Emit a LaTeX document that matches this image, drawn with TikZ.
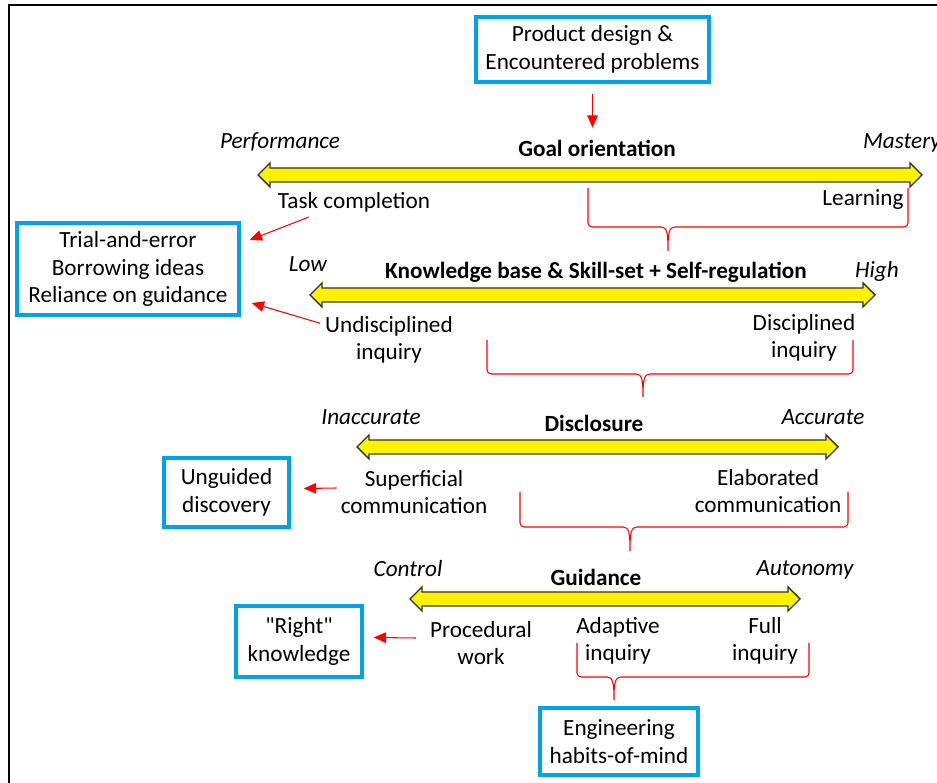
\documentclass[tikz,border=0pt]{standalone}
\usepackage{fontspec}
\setmainfont{Carlito}
\usetikzlibrary{calc,arrows.meta}
\definecolor{boxblue}{RGB}{0,162,232}
\definecolor{barfill}{RGB}{255,242,0}

\tikzset{
	lbl/.style={font=\fontsize{13.2pt}{15.6pt}\selectfont, align=center, inner sep=1pt},
	pole/.style={lbl, font=\fontsize{13.2pt}{15.6pt}\selectfont\itshape},
	axis/.style={lbl, font=\fontsize{13.2pt}{15.6pt}\selectfont\bfseries},
	outcome/.style={lbl, draw=boxblue, line width=2pt},
	redarrow/.style={red, line width=0.6pt, -{Triangle[length=7pt,width=6pt]}},
	cbrace/.style={red, line width=0.6pt, rounded corners=2.3pt},
	ybar/.style={draw=black!80, line width=0.8pt, fill=barfill}
}

\begin{document}
\begin{tikzpicture}[x=0.02cm, y=-0.02cm]
\useasboundingbox (0,0) rectangle (937,783);
\draw[line width=1.2pt] (9,790) -- (9,5) -- (945,5);

% yellow scales
\foreach \xa/\xb/\y in {258/922/175, 310/875/295, 357/838/447, 410/800/599}{
	\draw[ybar] (\xa,\y) -- (\xa+12,\y-12) -- (\xa+12,\y-7) -- (\xb-12,\y-7) -- (\xb-12,\y-12)
		-- (\xb,\y) -- (\xb-12,\y+12) -- (\xb-12,\y+7) -- (\xa+12,\y+7) -- (\xa+12,\y+12) -- cycle;
	}

% red braces
\foreach \xl/\xr/\xm/\yt/\yb/\ytip in {588/908/668/188/227/251, 487/853/643/340/374/397, 520/848/630/492/527/551, 577/809/614/643/677/700}{
	\draw[cbrace] (\xl,\yt) -- (\xl,\yb) -- (\xm-7,\yb);
	\draw[cbrace] (\xr,\yt) -- (\xr,\yb) -- (\xm+7,\yb);
	\draw[red, line width=0.6pt] (\xm-7,\yb) .. controls (\xm-1,\yb) and (\xm,\yb+6) .. (\xm,\ytip)
		.. controls (\xm,\yb+6) and (\xm+1,\yb) .. (\xm+7,\yb);
	}

% outcome boxes
\node[outcome, minimum width=4.66cm, minimum height=1.3cm] (prod) at (592.5,49.5) {Product design \&\\Encountered problems};
\node[outcome, minimum width=4.44cm, minimum height=1.84cm] (trial) at (128,269) {Trial-and-error\\Borrowing ideas\\Reliance on guidance};
\node[outcome, minimum width=2.5cm, minimum height=1.38cm] (unguided) at (226.5,492.5) {Unguided\\discovery};
\node[outcome, minimum width=2.52cm, minimum height=1.42cm] (right) at (299,641.5) {\textquotedbl Right\textquotedbl\\knowledge};
\node[outcome, minimum width=3.16cm, minimum height=1.34cm] (eng) at (619,741.5) {Engineering\\habits-of-mind};

% goal orientation
\node[axis] (goal) at (597,148) {Goal orientation};
\node[pole] (perf) at (280,142) {Performance};
\node[pole, anchor=west] (mast) at (861,143) {Mastery};
\node[lbl] (task) at (354,202) {Task completion};
\node[lbl] (learn) at (863,200) {Learning};

% knowledge base
\node[axis] (kb) at (596,272) {Knowledge base \& Skill-set + Self-regulation};
\node[pole] (low) at (308,264) {Low};
\node[pole] (high) at (877,271) {High};
\node[lbl] (undisc) at (389,340) {Undisciplined\\inquiry};
\node[lbl] (discip) at (804,338) {Disciplined\\inquiry};

% disclosure
\node[axis] (discl) at (594,423) {Disclosure};
\node[pole] (inacc) at (371,417) {Inaccurate};
\node[pole] (acc) at (823,417) {Accurate};
\node[lbl] (superf) at (414,492) {Superficial\\communication};
\node[lbl] (elab) at (768,491) {Elaborated\\communication};

% guidance
\node[axis] (guid) at (596,577) {Guidance};
\node[pole] (ctrl) at (408,569) {Control};
\node[pole] (auto) at (805,570) {Autonomy};
\node[lbl] (proc) at (481,643) {Procedural\\work};
\node[lbl] (adapt) at (618,641) {Adaptive\\inquiry};
\node[lbl] (full) at (765,641) {Full\\inquiry};

% red arrows
\draw[redarrow, shorten <=5.7pt, shorten >=5.7pt] (prod.south) -- (prod.south |- goal.north);
\draw[redarrow] ($(task.south west)+(33,3)$) -- ($(trial.east)+(9,-29)$);
\draw[redarrow] ($(undisc.north west)+(-3,9)$) -- ($(trial.east)+(11,34)$);
\draw[redarrow] ($(superf.west)+(-2,-4)$) -- ($(unguided.east)+(13,-4)$);
\draw[redarrow] ($(proc.west)+(-12,-5)$) -- ($(right.east)+(10,-4)$);
\end{tikzpicture}
\end{document}
